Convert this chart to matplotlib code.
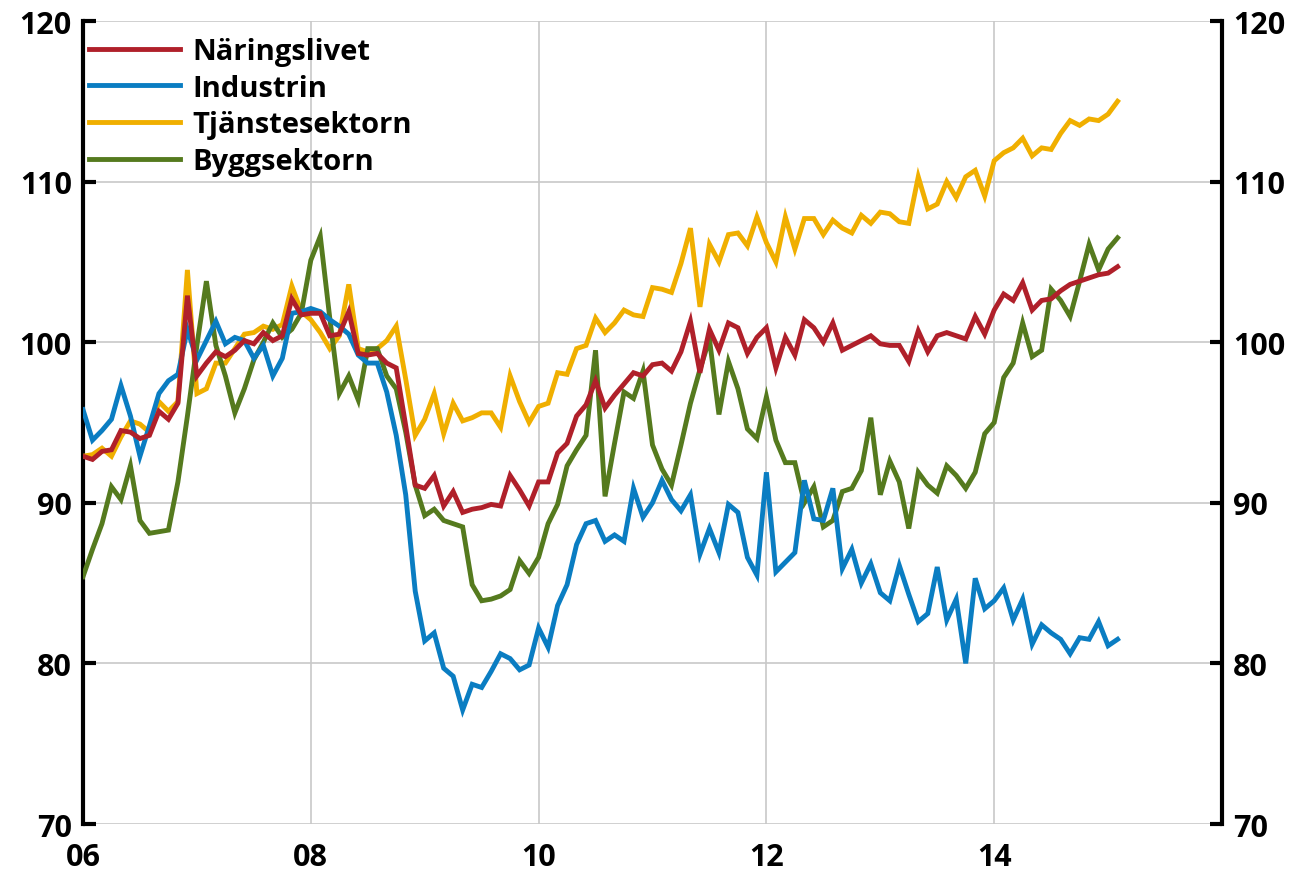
import numpy as np
import matplotlib
matplotlib.use("Agg")
import matplotlib.pyplot as plt

# === data (monthly, Jan 2006 - Feb 2015) ===
naringslivet = [
    92.9, 92.7, 93.2, 93.3, 94.5, 94.4, 94.0, 94.2, 95.7, 95.2, 96.2, 102.9, 97.9, 98.7, 99.4, 99.1,
    99.5, 100.1, 99.9, 100.6, 100.1, 100.4, 102.7, 101.7, 101.8,
    101.8, 100.4, 100.5, 101.9, 99.3, 99.2, 99.3, 98.7, 98.4, 94.8, 91.1, 90.9, 91.7, 89.8, 90.7,
    89.4, 89.6, 89.7, 89.9, 89.8, 91.7, 90.8, 89.8, 91.3,
    91.3, 93.1, 93.7, 95.4, 96.1, 97.6, 95.9, 96.7, 97.4, 98.1, 97.9, 98.6, 98.7, 98.2, 99.4,
    101.3, 98.1, 100.8, 99.5, 101.2, 100.9, 99.3, 100.3, 100.9, 98.4,
    100.3, 99.2, 101.4, 100.9, 100.0, 101.2, 99.5, 99.8, 100.1, 100.4, 99.9, 99.8, 99.8, 98.8,
    100.7, 99.4, 100.4, 100.6, 100.4, 100.2, 101.6, 100.5, 102.0,
    103.0, 102.6, 103.7, 102.0, 102.6, 102.7, 103.2, 103.6, 103.8, 104.0, 104.2, 104.3, 104.7,
]
industrin = [
    95.8, 93.9, 94.5, 95.2, 97.3, 95.4, 92.9, 94.8, 96.8, 97.6, 98.0, 100.8, 98.9, 100.1, 101.3,
    99.9, 100.3, 100.1, 99.0, 99.8, 97.9, 99.0, 101.8, 101.9, 102.1,
    101.9, 101.4, 101.0, 100.5, 99.2, 98.7, 98.7, 96.9, 94.2, 90.5, 84.5, 81.4, 81.9, 79.7, 79.2,
    77.1, 78.7, 78.5, 79.5, 80.6, 80.3, 79.6, 79.9, 82.2,
    81.0, 83.6, 84.9, 87.4, 88.7, 88.9, 87.6, 88.0, 87.6, 90.9, 89.1, 90.0, 91.4, 90.2, 89.5,
    90.5, 86.8, 88.4, 86.9, 89.9, 89.4, 86.6, 85.5, 91.9, 85.7,
    86.3, 86.9, 91.4, 89.0, 88.9, 90.9, 85.9, 87.1, 85.0, 86.2, 84.4, 83.9, 86.1, 84.3, 82.6,
    83.1, 86.0, 82.7, 84.0, 80.0, 85.3, 83.4, 83.9,
    84.7, 82.7, 84.0, 81.2, 82.4, 81.9, 81.5, 80.6, 81.6, 81.5, 82.6, 81.1, 81.5,
]
tjanstesektorn = [
    92.9, 93.0, 93.4, 92.9, 94.1, 95.1, 94.9, 94.4, 96.3, 95.7, 96.3, 104.5, 96.8, 97.1, 98.7,
    98.7, 99.6, 100.5, 100.6, 101.0, 100.8, 101.1, 103.5, 101.9, 101.4,
    100.6, 99.6, 100.4, 103.6, 99.6, 99.4, 99.6, 100.1, 101.0, 97.7, 94.2, 95.2, 96.8, 94.3, 96.2,
    95.1, 95.3, 95.6, 95.6, 94.7, 97.9, 96.3, 95.0, 96.0,
    96.2, 98.1, 98.0, 99.6, 99.8, 101.5, 100.6, 101.2, 102.0, 101.7, 101.6, 103.4, 103.3, 103.1,
    104.9, 107.1, 102.2, 106.1, 105.0, 106.7, 106.8, 106.0, 107.8, 106.2, 105.0,
    107.8, 105.8, 107.7, 107.7, 106.7, 107.6, 107.1, 106.8, 107.9, 107.4, 108.1, 108.0, 107.5,
    107.4, 110.3, 108.3, 108.6, 110.0, 109.0, 110.3, 110.7, 109.1, 111.3,
    111.8, 112.1, 112.7, 111.6, 112.1, 112.0, 113.0, 113.8, 113.5, 113.9, 113.8, 114.2, 115.0,
]
byggsektorn = [
    85.4, 87.1, 88.7, 91.0, 90.2, 92.3, 88.9, 88.1, 88.2, 88.3, 91.3, 95.4, 99.8, 103.8, 99.8,
    97.9, 95.6, 97.1, 98.9, 100.0, 101.2, 100.3, 100.8, 101.8, 105.1,
    106.6, 101.5, 96.8, 97.9, 96.4, 99.6, 99.6, 97.9, 97.1, 94.4, 91.1, 89.2, 89.6, 88.9, 88.7,
    88.5, 84.9, 83.9, 84.0, 84.2, 84.6, 86.4, 85.6, 86.6,
    88.7, 89.9, 92.3, 93.3, 94.2, 99.5, 90.4, 93.7, 96.9, 96.5, 98.2, 93.6, 92.1, 91.1, 93.6,
    96.2, 98.3, 100.2, 95.5, 98.8, 97.1, 94.6, 94.0, 96.6, 93.9,
    92.5, 92.5, 90.0, 91.0, 88.5, 88.9, 90.7, 90.9, 92.0, 95.3, 90.5, 92.6, 91.3, 88.4, 91.9,
    91.1, 90.6, 92.3, 91.7, 90.9, 91.9, 94.3, 95.0,
    97.8, 98.7, 101.2, 99.1, 99.5, 103.3, 102.6, 101.6, 103.8, 106.1, 104.5, 105.8, 106.5,
]

labels = ["Näringslivet", "Industrin", "Tjänstesektorn", "Byggsektorn"]
colors = ["#B0202A", "#0A7DC2", "#F0AF00", "#557A1E"]
zorders = [6, 5, 3, 4]
series = [naringslivet, industrin, tjanstesektorn, byggsektorn]

x_ticks = [2006, 2008, 2010, 2012, 2014]
x_ticklabels = ["06", "08", "10", "12", "14"]
y_ticks = [70, 80, 90, 100, 110, 120]

months = np.arange(len(naringslivet))
x = 2006 + months / 12.0

plt.rcParams["font.family"] = ["Open Sans", "DejaVu Sans"]
plt.rcParams["font.weight"] = "bold"

fig = plt.figure(figsize=(12.96, 8.78), dpi=100)
ax = fig.add_axes([83 / 1296, 53 / 878, (1222 - 83) / 1296, (825 - 22) / 878])

for s, lab, c, z in zip(series, labels, colors, zorders):
    ax.plot(x, s, color=c, lw=3.5, label=lab, zorder=z, solid_joinstyle="miter")

ax.set_xlim(2006, 2016)
ax.set_ylim(70, 120)
ax.set_xticks(x_ticks)
ax.set_xticklabels(x_ticklabels)
ax.set_yticks(y_ticks)

ax.grid(True, color="#C8C8C8", lw=1.2, zorder=0)
ax.set_axisbelow(True)

for side in ["top", "bottom"]:
    ax.spines[side].set_visible(False)
for side in ["left", "right"]:
    ax.spines[side].set_linewidth(3)
    ax.spines[side].set_color("black")

ax.tick_params(axis="x", length=0, pad=13, labelsize=22)
ax.tick_params(axis="y", direction="in", length=9, width=3, pad=8, labelsize=22)

ax2 = ax.twinx()
ax2.set_ylim(70, 120)
ax2.set_yticks(y_ticks)
for side in ["top", "bottom", "left", "right"]:
    ax2.spines[side].set_visible(False)
ax2.tick_params(axis="y", direction="in", length=9, width=3, pad=8, labelsize=22)

leg = ax.legend(loc="upper left", frameon=False, fontsize=21, handlelength=3.1,
                handletextpad=0.42, labelspacing=0.26, borderpad=0.1, borderaxespad=0.12,
                bbox_to_anchor=(0.0, 0.988))
for t in leg.get_texts():
    t.set_fontweight("bold")

fig.savefig("out.png", dpi=100)
